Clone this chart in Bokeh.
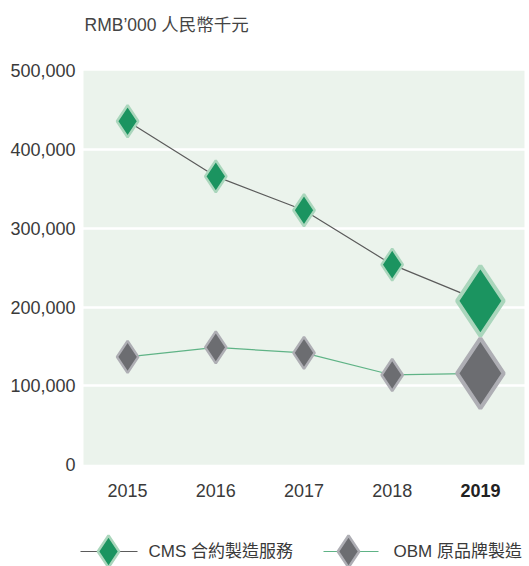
from bokeh.plotting import figure
from bokeh.models import Range1d, FixedTicker, NumeralTickFormatter
from bokeh.embed import file_html
from bokeh.resources import INLINE
from bokeh.core.properties import value

# ---- data ----
years = [2015, 2016, 2017, 2018, 2019]
year_labels = ["2015", "2016", "2017", "2018", "2019"]
cms = [436000, 366000, 323000, 254000, 208000]
obm = [137000, 149000, 142000, 114000, 116000]
y_ticks = [0, 100000, 200000, 300000, 400000, 500000]
grid_ticks = [100000, 200000, 300000, 400000]
unit_title = "RMB\u2019000 人民幣千元"
series_names = ["CMS 合約製造服務", "OBM 原品牌製造"]
highlight_year = 2019
y_max = 500000

# ---- styles ----
FONT = "Liberation Sans, Noto Sans CJK TC"
TEXT_COLOR = "#3a3a3a"
PLOT_BG = "#ebf3ec"
CMS_FILL, CMS_EDGE, CMS_LINE = "#1b9460", "#aad6bc", "#5b5b5b"
OBM_FILL, OBM_EDGE, OBM_LINE = "#6c6d71", "#aeaeb4", "#5fb386"
SMALL, BIG = 32, 70
SMALL_W, BIG_W = 2.5, 4

sizes = [BIG if y == highlight_year else SMALL for y in years]
edge_widths = [BIG_W if y == highlight_year else SMALL_W for y in years]

# frame spans the whole canvas height; the green plot area is drawn as a quad
p = figure(width=529, height=566, output_backend="svg", toolbar_location=None,
           x_range=Range1d(2014.4433, 2019.5567), y_range=Range1d(-129060, 589210),
           x_axis_location=None,
           min_border_left=78, min_border_right=0, min_border_top=0,
           min_border_bottom=0)
p.extra_x_ranges = {"page": Range1d(78, 529)}
p.extra_y_ranges = {"page": Range1d(566, 0)}
p.background_fill_color = "white"
p.border_fill_color = "white"
p.outline_line_color = None
p.xgrid.visible = False

x0 = years[0] - 0.5
x1 = years[-1] + 0.5
p.quad(left=[x0], right=[x1], bottom=[0], top=[y_max], fill_color=PLOT_BG,
       line_color=None, level="underlay")

p.ygrid.ticker = FixedTicker(ticks=grid_ticks)
p.ygrid.grid_line_color = "white"
p.ygrid.grid_line_width = 2.5

ax = p.yaxis[0]
ax.ticker = FixedTicker(ticks=y_ticks)
ax.formatter = NumeralTickFormatter(format="0,0")
ax.axis_line_color = None
ax.major_tick_line_color = None
ax.minor_tick_line_color = None
ax.major_tick_out = 0
ax.major_tick_in = 0
ax.minor_tick_out = 0
ax.minor_tick_in = 0
ax.major_label_standoff = 3
ax.major_label_text_font = FONT
ax.major_label_text_font_size = "18px"
ax.major_label_text_color = TEXT_COLOR

p.line(years, cms, line_color=CMS_LINE, line_width=1.2)
p.line(years, obm, line_color=OBM_LINE, line_width=1.2)
p.scatter(x=years, y=cms, size=sizes, marker="diamond", fill_color=CMS_FILL,
          line_color=CMS_EDGE, line_width=edge_widths)
p.scatter(x=years, y=obm, size=sizes, marker="diamond", fill_color=OBM_FILL,
          line_color=OBM_EDGE, line_width=edge_widths)

# year labels (category axis), highlighted year in bold
label_y = -32000
norm = [(y, l) for y, l in zip(years, year_labels) if y != highlight_year]
hi = [(y, l) for y, l in zip(years, year_labels) if y == highlight_year]
p.text([y for y, _ in norm], [label_y] * len(norm), text=[l for _, l in norm],
       text_align="center", text_baseline="middle", text_font=value(FONT),
       text_font_size="18px", text_color=TEXT_COLOR)
p.text([y for y, _ in hi], [label_y] * len(hi), text=[l for _, l in hi],
       text_align="center", text_baseline="middle", text_font=value(FONT),
       text_font_size="18px", text_font_style="bold", text_color="#222222")

# unit title
p.text([84], [24], text=[unit_title], x_range_name="page", y_range_name="page",
       text_align="left", text_baseline="middle", text_font=value(FONT),
       text_font_size="17.5px", text_color="#444444")

# ---- legend ----
leg_line_x = [(80, 137), (323, 378)]
leg_marker_x = [108, 348]
leg_text_x = [148, 393]
leg_y = 551
fills = [CMS_FILL, OBM_FILL]
edges = [CMS_EDGE, OBM_EDGE]
lines = [CMS_LINE, OBM_LINE]
for i in range(2):
    p.line(list(leg_line_x[i]), [leg_y, leg_y], line_color=lines[i], line_width=1.2,
           x_range_name="page", y_range_name="page")
    p.scatter([leg_marker_x[i]], [leg_y], size=SMALL, marker="diamond",
              fill_color=fills[i], line_color=edges[i], line_width=SMALL_W,
              x_range_name="page", y_range_name="page")
    p.text([leg_text_x[i]], [leg_y], text=[series_names[i]], text_align="left",
           text_baseline="middle", text_font=value(FONT), text_font_size="17px",
           text_color=TEXT_COLOR, x_range_name="page", y_range_name="page")

open("out.html", "w").write(file_html(p, INLINE))
